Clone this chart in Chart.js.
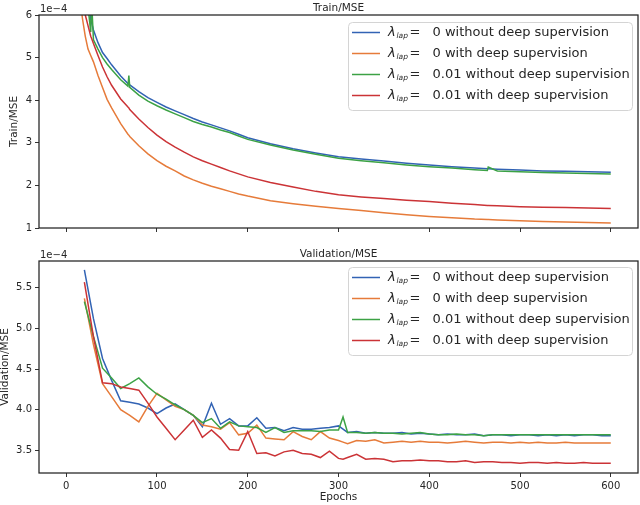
<!DOCTYPE html>
<html lang="en">
<head>
<meta charset="utf-8">
<title>Train / Validation MSE</title>
<script src="https://cdn.jsdelivr.net/npm/chart.js@4.4.1/dist/chart.umd.min.js"></script>
<style>
  body { margin: 0; background: #fff; }
  canvas { display: block; }
</style>
</head>
<body>
<canvas id="train" width="640" height="240"></canvas>
<canvas id="valid" width="640" height="265"></canvas>
<script>
// all MSE values are in units of 1e-4
var trainEpochs = [12, 15, 18, 21, 24, 27, 28, 30, 35, 40, 45, 50, 60, 68, 69, 70, 80, 90, 100,
  110, 120, 130, 140, 150, 160, 170, 180, 190, 200, 225, 250, 275, 300, 325, 350, 375, 400, 425, 450,
  464, 465, 475, 500, 525, 550, 575, 600];
var trainLap0NoDs = [9.5, 8.5, 7.6, 6.9, 6.3, 5.9, 5.82, 5.65, 5.35, 5.12, 4.98, 4.83, 4.57, 4.39, 4.38, 4.36, 4.2, 4.06, 3.95,
  3.84, 3.75, 3.66, 3.57, 3.49, 3.42, 3.35, 3.28, 3.2, 3.12, 2.98, 2.86, 2.76, 2.67, 2.62, 2.57, 2.52, 2.48, 2.44, 2.41,
  2.39, 2.39, 2.38, 2.36, 2.34, 2.33, 2.32, 2.31];
var trainLap0Ds = [7.2, 6.4, 5.9, 5.5, 5.2, 5.05, 5.0, 4.9, 4.58, 4.3, 4.02, 3.82, 3.45, 3.2, 3.18, 3.15, 2.93, 2.74, 2.58,
  2.45, 2.34, 2.22, 2.13, 2.05, 1.98, 1.92, 1.86, 1.80, 1.75, 1.64, 1.57, 1.51, 1.46, 1.41, 1.36, 1.31, 1.27, 1.24, 1.21,
  1.20, 1.20, 1.19, 1.17, 1.15, 1.14, 1.13, 1.12];
var trainLap01NoDs = [9.5, 8.5, 7.6, 6.8, 6.2, 5.6, 6.3, 5.42, 5.2, 5.0, 4.85, 4.72, 4.48, 4.33, 4.58, 4.3, 4.12, 3.98, 3.87,
  3.77, 3.68, 3.59, 3.5, 3.43, 3.37, 3.3, 3.24, 3.16, 3.08, 2.95, 2.83, 2.73, 2.64, 2.58, 2.53, 2.48, 2.44, 2.41, 2.37,
  2.35, 2.43, 2.34, 2.32, 2.30, 2.29, 2.28, 2.27];
var trainLap01Ds = [8.0, 7.1, 6.5, 6.0, 5.75, 5.5, 5.45, 5.33, 5.05, 4.78, 4.55, 4.35, 4.03, 3.84, 3.82, 3.78, 3.56, 3.36, 3.18,
  3.03, 2.9, 2.78, 2.67, 2.58, 2.5, 2.42, 2.34, 2.27, 2.2, 2.07, 1.96, 1.86, 1.78, 1.73, 1.69, 1.65, 1.62, 1.58, 1.55,
  1.53, 1.53, 1.52, 1.50, 1.49, 1.48, 1.47, 1.46];

var validEpochs = [20, 30, 40, 50, 60, 70, 80, 90, 100, 110, 120, 130, 140, 150, 160, 170, 180, 190, 200, 210,
  220, 230, 240, 250, 260, 270, 280, 290, 300, 305, 310, 320, 330, 340, 350, 360, 370, 380, 390, 400,
  410, 420, 430, 440, 450, 460, 470, 480, 490, 500, 510, 520, 530, 540, 550, 560, 570, 580, 590, 600];
var validLap0NoDs = [5.72, 5.12, 4.63, 4.36, 4.11, 4.09, 4.07, 4.02, 3.95, 4.02, 4.07, 4.0, 3.93, 3.79, 4.08, 3.82, 3.89, 3.80, 3.80, 3.90,
  3.77, 3.78, 3.74, 3.78, 3.76, 3.76, 3.77, 3.78, 3.80, 3.76, 3.72, 3.73, 3.71, 3.72, 3.71, 3.71, 3.72, 3.70, 3.71, 3.70,
  3.69, 3.70, 3.69, 3.69, 3.70, 3.68, 3.69, 3.69, 3.68, 3.69, 3.69, 3.68, 3.69, 3.68, 3.69, 3.68, 3.69, 3.69, 3.68, 3.68];
var validLap0Ds = [5.37, 4.80, 4.32, 4.16, 4.00, 3.93, 3.85, 4.04, 4.20, 4.12, 4.04, 4.00, 3.93, 3.81, 3.79, 3.76, 3.84, 3.69, 3.71, 3.81,
  3.65, 3.64, 3.63, 3.73, 3.67, 3.63, 3.73, 3.65, 3.62, 3.60, 3.58, 3.62, 3.61, 3.63, 3.59, 3.60, 3.61, 3.60, 3.61, 3.60,
  3.60, 3.59, 3.60, 3.61, 3.60, 3.59, 3.60, 3.60, 3.59, 3.60, 3.59, 3.60, 3.59, 3.59, 3.60, 3.59, 3.59, 3.59, 3.59, 3.59];
var validLap01NoDs = [5.33, 4.90, 4.51, 4.39, 4.26, 4.32, 4.39, 4.28, 4.19, 4.13, 4.06, 4.00, 3.93, 3.84, 3.89, 3.77, 3.85, 3.80, 3.79, 3.78,
  3.72, 3.78, 3.72, 3.74, 3.74, 3.74, 3.73, 3.75, 3.75, 3.91, 3.72, 3.72, 3.71, 3.72, 3.71, 3.71, 3.70, 3.71, 3.72, 3.70,
  3.69, 3.69, 3.70, 3.69, 3.69, 3.68, 3.69, 3.69, 3.69, 3.69, 3.69, 3.69, 3.69, 3.69, 3.69, 3.69, 3.69, 3.69, 3.69, 3.69];
var validLap01Ds = [5.57, 4.90, 4.33, 4.32, 4.28, 4.26, 4.24, 4.08, 3.91, 3.77, 3.63, 3.75, 3.87, 3.66, 3.75, 3.65, 3.51, 3.50, 3.73, 3.46,
  3.47, 3.43, 3.48, 3.50, 3.46, 3.45, 3.41, 3.49, 3.40, 3.39, 3.41, 3.45, 3.39, 3.40, 3.39, 3.36, 3.37, 3.37, 3.38, 3.37,
  3.37, 3.36, 3.36, 3.37, 3.35, 3.36, 3.36, 3.35, 3.35, 3.34, 3.35, 3.35, 3.34, 3.35, 3.34, 3.34, 3.35, 3.34, 3.34, 3.34];

var seriesColors = ['#3263b4', '#e67b3a', '#3ca245', '#cb3336'];
var lapValues = ['0', '0', '0.01', '0.01'];
var lapSuffix = ['without deep supervision', 'with deep supervision', 'without deep supervision', 'with deep supervision'];
var xTicks = [0, 100, 200, 300, 400, 500, 600];
var trainYTicks = [1, 2, 3, 4, 5, 6];
var validYTicks = [3.5, 4.0, 4.5, 5.0, 5.5];

var FONT = '"DejaVu Sans", sans-serif';
var INK = '#262626';

function makeDatasets(epochs, series) {
  return series.map(function (vals, i) {
    return {
      data: vals.map(function (v, j) { return { x: epochs[j], y: v }; }),
      borderColor: seriesColors[i],
      borderWidth: 1.5,
      pointRadius: 0,
      tension: 0,
      order: 4 - i
    };
  });
}

function drawLegend(ctx, left, top) {
  ctx.save();
  ctx.beginPath();
  ctx.roundRect(left + 0.5, top + 0.5, 284, 88, 4);
  ctx.fillStyle = 'rgba(255,255,255,0.8)';
  ctx.fill();
  ctx.strokeStyle = '#d4d4d4';
  ctx.lineWidth = 1;
  ctx.stroke();
  for (var i = 0; i < 4; i++) {
    var y = top + 10.5 + i * 21;
    ctx.strokeStyle = seriesColors[i];
    ctx.lineWidth = 1.5;
    ctx.beginPath();
    ctx.moveTo(left + 4, y);
    ctx.lineTo(left + 32, y);
    ctx.stroke();
    ctx.fillStyle = INK;
    ctx.textBaseline = 'middle';
    ctx.font = 'italic 13px ' + FONT;
    ctx.fillText('\u03bb', left + 40, y);
    ctx.font = 'italic 7.5px ' + FONT;
    ctx.fillText('lap', left + 48.5, y + 4);
    ctx.font = '13px ' + FONT;
    ctx.fillText('=', left + 61.5, y);
    ctx.fillText(lapValues[i] + ' ' + lapSuffix[i], left + 84.5, y);
  }
  ctx.restore();
}

// title, frame, 1e-4 offset label and legend
var decor = {
  id: 'decor',
  afterDraw: function (chart, args, opts) {
    var ctx = chart.ctx, a = chart.chartArea;
    ctx.save();
    ctx.strokeStyle = '#222';
    ctx.lineWidth = 1.25;
    ctx.strokeRect(a.left, a.top, a.right - a.left, a.bottom - a.top);
    ctx.fillStyle = INK;
    ctx.textBaseline = 'alphabetic';
    ctx.font = '10px ' + FONT;
    ctx.textAlign = 'left';
    ctx.fillText('1e\u22124', a.left + 1, a.top - 3);
    ctx.font = '10.5px ' + FONT;
    ctx.textAlign = 'center';
    ctx.fillText(opts.title, (a.left + a.right) / 2, a.top - 4.5);
    ctx.restore();
    drawLegend(ctx, 348, opts.legendTop);
  }
};

function makeChart(id, epochs, series, yTicks, yMin, yMax, yLabel, opt) {
  return new Chart(document.getElementById(id), {
    type: 'line',
    data: { datasets: makeDatasets(epochs, series) },
    plugins: [decor],
    options: {
      responsive: false,
      animation: false,
      layout: { padding: { top: opt.top, right: 2, left: 0, bottom: 0 } },
      plugins: {
        legend: { display: false },
        tooltip: { enabled: false },
        decor: { title: opt.title, legendTop: opt.legendTop }
      },
      scales: {
        x: {
          type: 'linear',
          min: -30,
          max: 630,
          afterBuildTicks: function (s) { s.ticks = xTicks.map(function (v) { return { value: v }; }); },
          afterFit: function (s) { s.height = opt.xHeight; },
          grid: { drawOnChartArea: false, drawTicks: true, tickLength: 4, color: '#333', lineWidth: 1 },
          border: { display: false },
          ticks: { display: opt.xLabels, color: INK, font: { family: FONT, size: 10 }, padding: 3, maxRotation: 0 },
          title: { display: opt.xLabels, text: 'Epochs', color: INK, font: { family: FONT, size: 10.5 }, padding: { top: 0, bottom: 1 } }
        },
        y: {
          type: 'linear',
          min: yMin,
          max: yMax,
          afterBuildTicks: function (s) { s.ticks = yTicks.map(function (v) { return { value: v }; }); },
          afterFit: function (s) { s.width = 39; },
          grid: { drawOnChartArea: false, drawTicks: true, tickLength: 4, color: '#333', lineWidth: 1 },
          border: { display: false },
          ticks: {
            color: INK,
            font: { family: FONT, size: 10 },
            padding: 3,
            callback: function (v) { return opt.decimals ? v.toFixed(1) : String(v); }
          },
          title: { display: true, text: yLabel, color: INK, font: { family: FONT, size: 10.5, lineHeight: 1 }, padding: { top: opt.yTitlePad, bottom: 0 } }
        }
      }
    }
  });
}

makeChart('train', trainEpochs, [trainLap0NoDs, trainLap0Ds, trainLap01NoDs, trainLap01Ds], trainYTicks, 1, 6,
  'Train/MSE', { top: 15, xHeight: 12, xLabels: false, decimals: false, yTitlePad: 9, title: 'Train/MSE', legendTop: 22 });
makeChart('valid', validEpochs, [validLap0NoDs, validLap0Ds, validLap01NoDs, validLap01Ds], validYTicks, 3.22, 5.83,
  'Validation/MSE', { top: 21, xHeight: 32, xLabels: true, decimals: true, yTitlePad: 0, title: 'Validation/MSE', legendTop: 27 });
</script>
</body>
</html>
